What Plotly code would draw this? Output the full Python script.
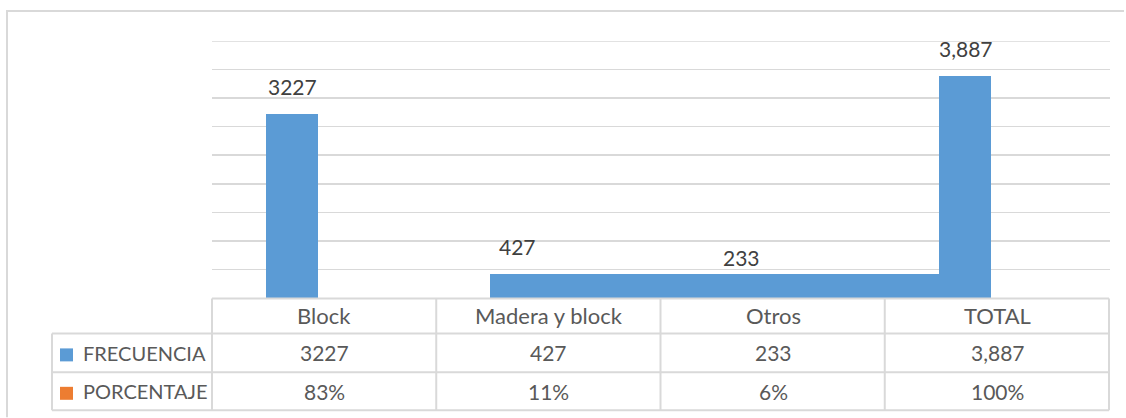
import plotly.graph_objects as go

# ---- data ----
categorias = ["Block", "Madera y block", "Otros", "TOTAL"]
frecuencia = [3227, 427, 233, 3887]
frecuencia_txt = ["3227", "427", "233", "3,887"]
porcentaje_txt = ["83%", "11%", "6%", "100%"]
serie_frec = "FRECUENCIA"
serie_porc = "PORCENTAJE"

BLUE = "#5b9bd5"
ORANGE = "#ed7d31"
GRID = "#d9d9d9"
FONT = "Lato"

W, H = 1126, 418
PL, PR, PT, PB = 212, 1110, 41, 298.5   # plot area in pixels
YMAX, YSTEP = 4500, 500


def px(x):
    return (x - PL) / (PR - PL)


def py(y):
    return (PB - y) / (PB - PT)


n = len(categorias)
idx = list(range(n))

fig = go.Figure()
fig.add_trace(go.Bar(x=idx, y=frecuencia, width=0.232, offset=-0.26,
                     marker=dict(color=BLUE, line=dict(width=0)),
                     name=serie_frec, hoverinfo="skip"))
# wide filler at the "Madera y block" level (as rendered in the original)
fig.add_trace(go.Bar(x=[idx[1]], y=[frecuencia[1]], width=1.996, offset=-0.253,
                     marker=dict(color=BLUE, line=dict(width=0)),
                     showlegend=False, hoverinfo="skip"))

annotations = []
for i, v, t in zip(idx, frecuencia, frecuencia_txt):
    annotations.append(dict(x=i - 0.14, y=v, xref="x", yref="y", text=t,
                            showarrow=False, xanchor="center", yanchor="bottom",
                            yshift=13,
                            font=dict(family=FONT, size=21, color="#404040")))

row_hdr = (299 + 334) / 2
row_f = (334 + 373) / 2
row_p = (373 + 411) / 2
for i in idx:
    xc = (i + 0.5) / n
    annotations.append(dict(x=xc, y=py(row_hdr), xref="paper", yref="paper",
                            text=categorias[i], showarrow=False,
                            xanchor="center", yanchor="middle",
                            font=dict(family=FONT, size=22, color="#595959")))
    annotations.append(dict(x=xc, y=py(row_f), xref="paper", yref="paper",
                            text=frecuencia_txt[i], showarrow=False,
                            xanchor="center", yanchor="middle",
                            font=dict(family=FONT, size=21, color="#595959")))
    annotations.append(dict(x=xc, y=py(row_p), xref="paper", yref="paper",
                            text=porcentaje_txt[i], showarrow=False,
                            xanchor="center", yanchor="middle",
                            font=dict(family=FONT, size=21, color="#595959")))

for name, yc in [(serie_frec, row_f), (serie_porc, row_p)]:
    annotations.append(dict(x=px(81), y=py(yc), xref="paper", yref="paper",
                            text=name, showarrow=False, xanchor="left",
                            yanchor="middle",
                            font=dict(family=FONT, size=20, color="#595959")))

shapes = []
# top gridline (at the axis maximum)
shapes.append(dict(type="line", xref="paper", yref="y", x0=0, x1=1,
                   y0=YMAX, y1=YMAX, line=dict(color=GRID, width=1.5)))

for col, yc in [(BLUE, row_f), (ORANGE, row_p)]:
    shapes.append(dict(type="rect", xref="paper", yref="paper",
                       x0=px(60), x1=px(73), y0=py(yc + 8.5), y1=py(yc - 4.5),
                       fillcolor=col, line=dict(width=0)))


def hline(x0, x1, y, w=2):
    shapes.append(dict(type="line", xref="paper", yref="paper",
                       x0=px(x0), x1=px(x1), y0=py(y), y1=py(y),
                       line=dict(color=GRID, width=w)))


def vline(x, y0, y1, w=2):
    shapes.append(dict(type="line", xref="paper", yref="paper",
                       x0=px(x), x1=px(x), y0=py(y0), y1=py(y1),
                       line=dict(color=GRID, width=w)))


hline(PL, 1109, 299)
hline(52, 1109, 334)
hline(52, 1109, 373)
hline(52, 1109, 411)
vline(52, 334, 411)
for i in range(n + 1):
    xe = PL + i * (1109 - PL) / n
    vline(xe, 299, 411)

# outer chart border (top and left edges)
hline(6, 1124, 11)
vline(7, 10, H)

fig.update_layout(
    width=W, height=H,
    margin=dict(l=PL, r=W - PR, t=PT, b=H - PB, pad=0),
    paper_bgcolor="white", plot_bgcolor="white",
    barmode="overlay", bargap=0,
    showlegend=False,
    xaxis=dict(range=[-0.5, n - 0.5], showgrid=False, zeroline=False,
               showticklabels=False, showline=False, fixedrange=True),
    yaxis=dict(range=[0, YMAX], dtick=YSTEP, showgrid=True, gridcolor=GRID,
               gridwidth=1.5, zeroline=False, showticklabels=False,
               showline=False, fixedrange=True),
    annotations=annotations,
    shapes=shapes,
    font=dict(family=FONT),
)

fig.write_html(
    "out.html",
    config={"displayModeBar": False, "staticPlot": True},
    post_script=("document.body.style.margin='0';"
                 "document.body.style.overflow='hidden';"
                 "document.documentElement.style.overflow='hidden';"),
)
